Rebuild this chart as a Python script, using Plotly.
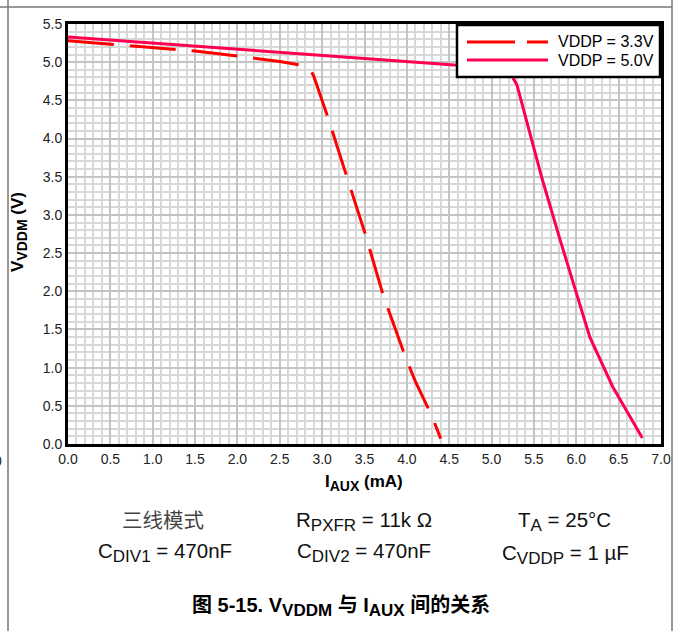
import plotly.graph_objects as go

# V_VDDM vs I_AUX, two VDDP supply levels
iaux_33 = [0.0, 0.55, 1.0, 1.5, 2.0, 2.5, 2.75, 2.85, 2.9, 3.07, 3.3, 3.52, 3.72, 3.85, 3.98, 4.1, 4.29, 4.4]
vddm_33 = [5.28, 5.23, 5.19, 5.145, 5.08, 5.01, 4.96, 4.92, 4.82, 4.27, 3.47, 2.71, 1.95, 1.55, 1.15, 0.82, 0.38, 0.07]

iaux_50 = [0.0, 1.0, 2.0, 3.0, 4.0, 4.6, 5.1, 5.24, 5.30, 5.60, 5.81, 6.16, 6.43, 6.78]
vddm_50 = [5.33, 5.25, 5.17, 5.09, 5.01, 4.96, 4.9, 4.82, 4.70, 3.46, 2.67, 1.40, 0.75, 0.08]

series_names = ["VDDP = 3.3V", "VDDP = 5.0V"]
x_ticks = [i * 0.5 for i in range(15)]
y_ticks = [i * 0.5 for i in range(12)]

RED = "#ff0000"
PINK = "#ff0050"
DASH = "46px,16px"
FONT = "Arial, Liberation Sans, sans-serif"
CJK = "Noto Sans CJK SC, sans-serif"

W, H = 682, 631
L, R, T, B = 68, 661, 24, 444  # plot area in pixels


def px(x):
    return (x - L) / (R - L)


def py(y):
    return (B - y) / (B - T)


def sub(text, size):
    return f"<sub><span style='font-size:{size}px'>{text}</span></sub>"


fig = go.Figure()
fig.add_trace(go.Scatter(x=iaux_33, y=vddm_33, mode="lines", name=series_names[0],
                         line=dict(color=RED, width=3, dash=DASH), showlegend=False))
fig.add_trace(go.Scatter(x=iaux_50, y=vddm_50, mode="lines", name=series_names[1],
                         line=dict(color=PINK, width=3), showlegend=False))

axis_common = dict(
    showline=True, linecolor="black", linewidth=3, mirror=True,
    showgrid=True, gridcolor="#c4c4c4", gridwidth=2,
    ticks="", tickfont=dict(family=FONT, size=14, color="#222"),
    zeroline=False, tickformat=".1f",
)

fig.update_xaxes(range=[0, 7], tickvals=x_ticks,
                 minor=dict(dtick=0.1, showgrid=True, gridcolor="#d8d8d8", gridwidth=1.5),
                 **axis_common)
fig.update_yaxes(range=[0, 5.5], tickvals=y_ticks,
                 minor=dict(dtick=0.1, showgrid=True, gridcolor="#d8d8d8", gridwidth=1.5),
                 **axis_common)

shapes = []
# page frame lines
shapes.append(dict(type="line", xref="paper", yref="paper", x0=px(0), x1=px(672), y0=py(7), y1=py(7),
                   line=dict(color="#777", width=1.5), layer="above"))
for xv in (8, 672):
    shapes.append(dict(type="line", xref="paper", yref="paper", x0=px(xv), x1=px(xv), y0=py(0), y1=py(H),
                       line=dict(color="#777", width=1.5), layer="above"))
# legend box
shapes.append(dict(type="rect", xref="paper", yref="paper", x0=px(457), x1=px(660), y0=py(77), y1=py(25),
                   fillcolor="white", line=dict(color="black", width=2.5), layer="above"))
shapes.append(dict(type="line", xref="paper", yref="paper", x0=px(467), x1=px(548), y0=py(42), y1=py(42),
                   line=dict(color=RED, width=3, dash="48px,12px"), layer="above"))
shapes.append(dict(type="line", xref="paper", yref="paper", x0=px(467), x1=px(548), y0=py(60), y1=py(60),
                   line=dict(color=PINK, width=3), layer="above"))

ann = []
ann.append(dict(text=series_names[0], x=px(556), y=py(42), xanchor="left", yanchor="middle",
                font=dict(family=FONT, size=16, color="black")))
ann.append(dict(text=series_names[1], x=px(556), y=py(60), xanchor="left", yanchor="middle",
                font=dict(family=FONT, size=16, color="black")))
# axis titles
ann.append(dict(text="<b>I" + sub("AUX", 14) + " (mA)</b>", x=px(364), y=py(483), xanchor="center",
                yanchor="middle", font=dict(family=FONT, size=17, color="black")))
ann.append(dict(text="<b>V" + sub("VDDM", 14) + " (V)</b>", x=px(19), y=py(232), xanchor="center",
                yanchor="middle", textangle=-90, font=dict(family=FONT, size=17, color="black")))
# clipped label at the left edge
ann.append(dict(text="0", x=px(4), y=py(461), xanchor="right", yanchor="middle",
                font=dict(family=FONT, size=14, color="#222")))
# test conditions
cond = [
    ("三线模式", 163, 519, CJK, "#444"),
    ("R" + sub("PXFR", 17) + " = 11k Ω", 364, 521, FONT, "#111"),
    ("T" + sub("A", 17) + " = 25°C", 564, 521, FONT, "#111"),
    ("C" + sub("DIV1", 17) + " = 470nF", 165, 552, FONT, "#111"),
    ("C" + sub("DIV2", 17) + " = 470nF", 364, 552, FONT, "#111"),
    ("C" + sub("VDDP", 17) + " = 1 µF", 565, 554, FONT, "#111"),
]
for txt, cx, cy, fam, col in cond:
    ann.append(dict(text=txt, x=px(cx), y=py(cy), xanchor="center", yanchor="middle",
                    font=dict(family=fam, size=20.5, color=col)))
ann.append(dict(text="<b>图 5-15. V" + sub("VDDM", 17) + " 与 I" + sub("AUX", 17) + " 间的关系</b>",
                x=px(341), y=py(607), xanchor="center", yanchor="middle",
                font=dict(family="Arial, Liberation Sans, Noto Sans CJK SC, sans-serif", size=20, color="black")))

for a in ann:
    a.update(xref="paper", yref="paper", showarrow=False)

fig.update_layout(
    width=W, height=H,
    margin=dict(l=L, r=W - R, t=T, b=H - B),
    paper_bgcolor="white", plot_bgcolor="white",
    shapes=shapes, annotations=ann, showlegend=False,
)

fig.write_html("out.html")
